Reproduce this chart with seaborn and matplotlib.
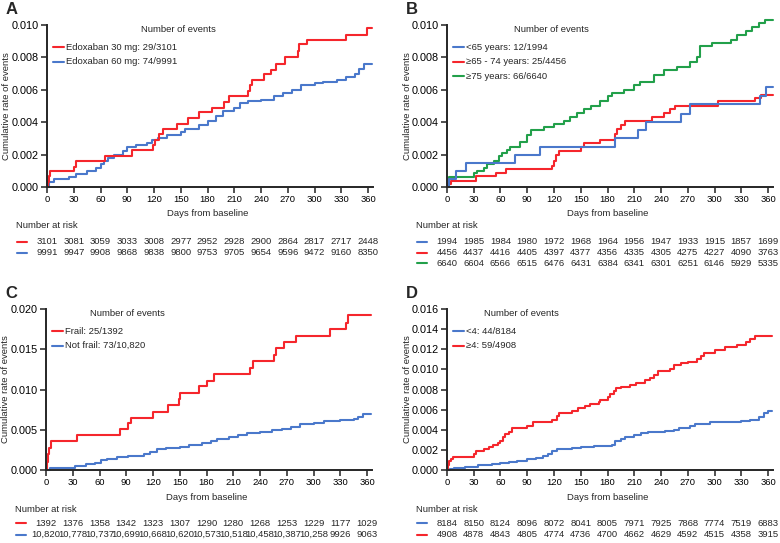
import numpy as np
import pandas as pd
import seaborn as sns
import matplotlib.pyplot as plt
from matplotlib import transforms
from matplotlib.lines import Line2D
from matplotlib.ticker import FormatStrFormatter

# ------------------------------------------------------
# Data
# ------------------------------------------------------
RED = '#f5262c'
BLUE = '#4a78cb'
GREEN = '#22a04a'

day_ticks = list(range(0, 361, 30))

# Panel A: dose
a30_days = [0, 1, 2, 3, 30, 33, 65, 95, 119, 121, 126, 130, 146, 158, 171, 185, 198, 204, 225, 228, 230,
            243, 251, 257, 267, 281, 283, 292, 335, 359, 365]
a30_rate = [0, 0.0003, 0.0007, 0.00097, 0.00125, 0.0016, 0.00194, 0.00228, 0.0026, 0.0029, 0.00325, 0.0036,
            0.0039, 0.00427, 0.0046, 0.0049, 0.00527, 0.0056, 0.0059, 0.0063, 0.0066, 0.0070, 0.0072, 0.0076,
            0.0080, 0.0084, 0.0088, 0.0091, 0.0094, 0.0098, 0.0098]
a60_days = [0, 2, 8, 25, 33, 45, 55, 60, 64, 68, 75, 85, 90, 100, 112, 118, 125, 135, 150, 155, 170, 180,
            190, 197, 210, 217, 225, 240, 255, 265, 275, 285, 300, 310, 325, 335, 345, 350, 355, 365]
a60_rate = [0, 0.0003, 0.0005, 0.0006, 0.0008, 0.001, 0.0012, 0.0014, 0.0016, 0.0018, 0.002, 0.0022, 0.0025,
            0.0026, 0.0027, 0.0029, 0.0030, 0.0032, 0.0034, 0.0036, 0.0038, 0.0041, 0.0044, 0.0047, 0.0049,
            0.0052, 0.0053, 0.0054, 0.0056, 0.0058, 0.0060, 0.0063, 0.0064, 0.0065, 0.0066, 0.0068, 0.0070,
            0.0073, 0.0076, 0.0076]

# Panel B: age
b65_days = [0, 2, 10, 21, 76, 104, 188, 214, 223, 262, 272, 351, 358, 366]
b65_rate = [0, 0.0005, 0.001, 0.0015, 0.002, 0.0025, 0.003, 0.0035, 0.004, 0.0045, 0.0051, 0.0056, 0.0062, 0.0062]
b6574_days = [0, 1, 4, 32, 55, 66, 118, 120, 122, 126, 150, 154, 172, 188, 191, 195, 200, 230, 243, 250, 256,
              304, 345, 352, 366]
b6574_rate = [0, 0.0002, 0.0004, 0.00068, 0.00085, 0.0011, 0.0013, 0.0016, 0.002, 0.0022, 0.0025, 0.0027,
              0.0029, 0.0033, 0.0036, 0.0038, 0.0041, 0.0043, 0.00455, 0.0048, 0.005, 0.0053, 0.0055, 0.0057,
              0.0057]
b75_days = [0, 2, 30, 34, 41, 45, 53, 58, 62, 67, 71, 82, 90, 94, 109, 120, 131, 138, 146, 154, 161, 172, 180,
            185, 198, 210, 217, 232, 243, 258, 273, 280, 284, 297, 318, 325, 335, 342, 350, 357, 366]
b75_rate = [0, 0.0006, 0.00085, 0.001, 0.0012, 0.0014, 0.0016, 0.0019, 0.0021, 0.0023, 0.0025, 0.0028, 0.0032,
            0.0035, 0.0037, 0.0039, 0.0041, 0.0043, 0.00455, 0.0048, 0.005, 0.0053, 0.0056, 0.0058, 0.006,
            0.0063, 0.0065, 0.0069, 0.0072, 0.0074, 0.0077, 0.008, 0.0087, 0.0089, 0.0091, 0.0094, 0.0096,
            0.0099, 0.0101, 0.0103, 0.0103]

# Panel C: frailty
cfrail_days = [0, 1, 2, 3, 6, 35, 83, 92, 95, 120, 137, 149, 150, 172, 180, 188, 229, 232, 256, 258, 267, 280,
               319, 336, 339, 365]
cfrail_rate = [0, 0.001, 0.002, 0.0027, 0.0036, 0.00435, 0.0051, 0.0058, 0.0065, 0.00725, 0.0081, 0.0088,
               0.0096, 0.0104, 0.0111, 0.0119, 0.0127, 0.0135, 0.0143, 0.0151, 0.0159, 0.0166, 0.0175, 0.0183,
               0.0192, 0.0192]
cnot_days = [0, 5, 20, 32, 45, 55, 62, 68, 80, 92, 110, 117, 125, 135, 150, 160, 175, 185, 192, 205, 215, 225,
             240, 253, 265, 275, 285, 300, 312, 330, 345, 350, 355, 358, 365]
cnot_rate = [0, 0.0002, 0.0003, 0.0005, 0.0007, 0.0009, 0.0012, 0.0014, 0.0016, 0.0018, 0.002, 0.0022, 0.0026,
             0.0027, 0.0029, 0.0031, 0.0033, 0.0036, 0.0039, 0.0041, 0.0044, 0.0046, 0.0047, 0.005, 0.0051,
             0.0053, 0.0057, 0.0059, 0.0061, 0.0062, 0.0063, 0.0066, 0.0069, 0.0070, 0.0070]

# Panel D: number of drugs
dlt4_days = [0, 3, 8, 20, 35, 50, 60, 70, 78, 90, 100, 108, 113, 118, 123, 140, 150, 165, 185, 188, 195, 200,
             210, 218, 225, 245, 255, 260, 272, 278, 295, 330, 340, 350, 355, 360, 365]
dlt4_rate = [0, 0.0001, 0.0002, 0.0003, 0.0005, 0.0006, 0.0007, 0.0008, 0.0009, 0.0011, 0.0012, 0.0014,
             0.0016, 0.0019, 0.0021, 0.0022, 0.0023, 0.0024, 0.0025, 0.0029, 0.0031, 0.0033, 0.0035, 0.0037,
             0.0038, 0.0039, 0.004, 0.0042, 0.0044, 0.0046, 0.0048, 0.0049, 0.005, 0.0053, 0.0057, 0.0059,
             0.0059]
dge4_days = [0, 1, 2, 5, 7, 30, 33, 42, 47, 52, 57, 60, 63, 65, 70, 73, 90, 96, 118, 123, 126, 140, 147, 155,
             160, 170, 172, 180, 183, 187, 190, 195, 205, 212, 222, 228, 232, 237, 250, 255, 262, 270, 280, 285,
             288, 300, 312, 325, 335, 340, 345, 365]
dge4_rate = [0, 0.0005, 0.0009, 0.0011, 0.0013, 0.0016, 0.0019, 0.0021, 0.0023, 0.0025, 0.0027, 0.0029, 0.0033,
             0.0036, 0.0038, 0.0042, 0.0044, 0.0048, 0.005, 0.0054, 0.0057, 0.0059, 0.0062, 0.0064, 0.0066,
             0.0068, 0.007, 0.0073, 0.0076, 0.0079, 0.0081, 0.0082, 0.0084, 0.0086, 0.0089, 0.0091, 0.0094,
             0.0098, 0.01, 0.0104, 0.0106, 0.0107, 0.011, 0.0113, 0.0116, 0.0119, 0.0122, 0.0124, 0.0127, 0.013,
             0.0133, 0.0133]

# Number at risk
risk_a30 = [3101, 3081, 3059, 3033, 3008, 2977, 2952, 2928, 2900, 2864, 2817, 2717, 2448]
risk_a60 = [9991, 9947, 9908, 9868, 9838, 9800, 9753, 9705, 9654, 9596, 9472, 9160, 8350]
risk_b65 = [1994, 1985, 1984, 1980, 1972, 1968, 1964, 1956, 1947, 1933, 1915, 1857, 1699]
risk_b6574 = [4456, 4437, 4416, 4405, 4397, 4377, 4356, 4335, 4305, 4275, 4227, 4090, 3763]
risk_b75 = [6640, 6604, 6566, 6515, 6476, 6431, 6384, 6341, 6301, 6251, 6146, 5929, 5335]
risk_cfrail = ['1392', '1376', '1358', '1342', '1323', '1307', '1290', '1280', '1268', '1253', '1229', '1177', '1029']
risk_cnot = ['10,820', '10,778', '10,737', '10,699', '10,668', '10,620', '10,573', '10,518', '10,458',
             '10,387', '10,258', '9926', '9063']
risk_dlt4 = [8184, 8150, 8124, 8096, 8072, 8041, 8005, 7971, 7925, 7868, 7774, 7519, 6883]
risk_dge4 = [4908, 4878, 4843, 4805, 4774, 4736, 4700, 4662, 4629, 4592, 4515, 4358, 3915]

# ------------------------------------------------------
# Style
# ------------------------------------------------------
sns.set_theme(style='ticks')
plt.rcParams['font.family'] = ['Liberation Sans', 'DejaVu Sans']
plt.rcParams['axes.linewidth'] = 1.4
plt.rcParams['xtick.major.width'] = 1.1
plt.rcParams['ytick.major.width'] = 1.1
plt.rcParams['xtick.major.size'] = 4
plt.rcParams['ytick.major.size'] = 4

W, H = 780, 543
fig = plt.figure(figsize=(W / 100, H / 100), dpi=100)
PXDAY = 321 / 360
FS = 6.8


def fx(x):
    return x / W


def fy(y):
    return 1 - y / H


def make_panel(letter, left, top, bottom, ymax, ystep, curves, legend, risk, risk_y):
    xmax = 366
    ax = fig.add_axes([fx(left), fy(bottom), xmax * PXDAY / W, (bottom - top) / H])
    for days, rate, color in curves:
        sns.lineplot(x=days, y=rate, ax=ax, color=color, lw=1.5, drawstyle='steps-post',
                     estimator=None, sort=False, legend=False, clip_on=False)
    ax.set_xlim(0, xmax)
    ax.set_ylim(0, ymax)
    ax.set_xticks(day_ticks)
    ax.set_yticks(np.arange(0, ymax + ystep / 2, ystep))
    ax.yaxis.set_major_formatter(FormatStrFormatter('%.3f'))
    ax.tick_params(axis='x', labelsize=FS, pad=2, colors='#222222', labelcolor='black')
    ax.tick_params(axis='y', labelsize=7.8, pad=2, colors='#222222', labelcolor='black')
    ax.set_xlabel('')
    ax.set_ylabel('')
    sns.despine(ax=ax)

    # panel letter and axis titles
    fig.text(fx(left - 41), fy(top - 16), letter, fontsize=12, fontweight='bold', ha='left', va='center')
    fig.text(fx(left - 40), fy((top + bottom) / 2), 'Cumulative rate of events', rotation=90,
             fontsize=FS, ha='center', va='center')
    fig.text(fx(left + 180 * PXDAY), fy(bottom + 27), 'Days from baseline', fontsize=FS, ha='center', va='center')

    # in-plot legend
    title_x, entries = legend
    fig.text(fx(left + title_x), fy(top + 5), 'Number of events', fontsize=FS, ha='center', va='center')
    for i, (lab, color) in enumerate(entries):
        yy = top + 22 + i * 14.7
        fig.add_artist(Line2D([fx(left + 6), fx(left + 17)], [fy(yy), fy(yy)], color=color, lw=1.5))
        fig.text(fx(left + 19), fy(yy), lab, fontsize=FS, ha='left', va='center')

    # number at risk table
    fig.text(fx(left - 31), fy(risk_y[0]), 'Number at risk', fontsize=FS, ha='left', va='center')
    trans = transforms.blended_transform_factory(ax.transData, fig.transFigure)
    for j, (values, color) in enumerate(risk):
        yy = risk_y[1] + j * risk_y[2]
        fig.add_artist(Line2D([fx(left - 30), fx(left - 20)], [fy(yy), fy(yy)], color=color, lw=1.5))
        for d, v in zip(day_ticks, values):
            fig.text(d, fy(yy), str(v), fontsize=FS, ha='center', va='center', transform=trans)
    return ax


make_panel('A', 47, 25, 187, 0.010, 0.002,
           [(a60_days, a60_rate, BLUE), (a30_days, a30_rate, RED)],
           (131, [('Edoxaban 30 mg: 29/3101', RED), ('Edoxaban 60 mg: 74/9991', BLUE)]),
           [(risk_a30, RED), (risk_a60, BLUE)], (226, 242, 10.5))

make_panel('B', 447, 25, 187, 0.010, 0.002,
           [(b75_days, b75_rate, GREEN), (b6574_days, b6574_rate, RED), (b65_days, b65_rate, BLUE)],
           (104, [('<65 years: 12/1994', BLUE), ('≥65 - 74 years: 25/4456', RED), ('≥75 years: 66/6640', GREEN)]),
           [(risk_b65, BLUE), (risk_b6574, RED), (risk_b75, GREEN)], (226, 242, 10.5))

make_panel('C', 46, 309, 470, 0.020, 0.005,
           [(cnot_days, cnot_rate, BLUE), (cfrail_days, cfrail_rate, RED)],
           (81, [('Frail: 25/1392', RED), ('Not frail: 73/10,820', BLUE)]),
           [(risk_cfrail, RED), (risk_cnot, BLUE)], (510, 523, 11.7))

make_panel('D', 447, 309, 470, 0.016, 0.002,
           [(dlt4_days, dlt4_rate, BLUE), (dge4_days, dge4_rate, RED)],
           (74, [('<4: 44/8184', BLUE), ('≥4: 59/4908', RED)]),
           [(risk_dlt4, BLUE), (risk_dge4, RED)], (510, 523, 11.7))

fig.savefig('out.png', dpi=100)
